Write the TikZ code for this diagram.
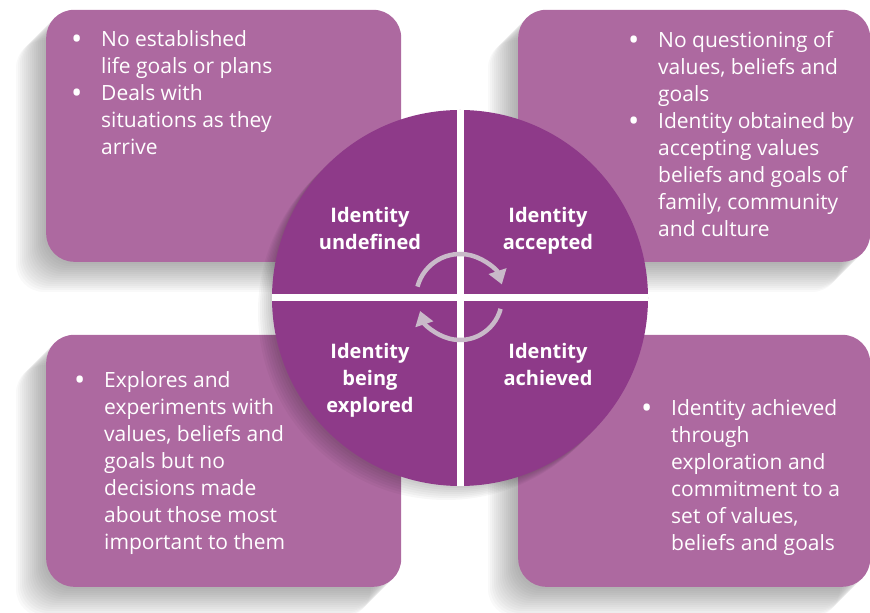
\documentclass[tikz,border=0pt]{standalone}
\usepackage{fontspec}
\setmainfont{Open Sans}
\usepackage{tikz}
\usetikzlibrary{arrows.meta}
\definecolor{boxpurple}{RGB}{173,105,160}
\definecolor{ringpurple}{RGB}{142,58,137}
\definecolor{arrowgray}{RGB}{201,186,201}
\newcommand{\dotmark}{\raisebox{-2.5pt}{\fontsize{30}{27}\selectfont\textbullet}}
\newcommand{\pointlist}[1]{{\fontsize{21}{27}\selectfont\begin{tabular}[t]{@{}p{30pt}@{}l@{}}#1\end{tabular}}}
\newcommand{\stagename}[1]{{\fontsize{20}{27}\selectfont\bfseries\begin{tabular}[t]{@{}c@{}}#1\end{tabular}}}

\begin{document}
\begin{tikzpicture}[x=1pt,y=1pt,
  panel/.style={rectangle,fill=boxpurple,rounded corners=28pt,inner sep=0pt,anchor=south west,minimum height=252pt},
  panelshade/.style={fill=black,opacity=0.025,rounded corners=28pt},
  listtext/.style={text=white,inner sep=0pt,anchor=base west},
  stagetext/.style={text=white,inner sep=0pt,anchor=base},
  roundarrow/.style={draw=arrowgray,line width=4.5pt,-{Triangle[width=18pt,length=14pt]}}]
\useasboundingbox (0,0) rectangle (870,613);
\foreach \n/\x/\y/\w in {undef/46/351/355,accept/518/351/352,explore/46/26/355,achieve/518/26/352}{
  \foreach \k in {2,4,...,30}
    \fill[panelshade] (\x-\k,\y-\k) rectangle +(\w,252);
  \node[panel,minimum width=\w pt] (\n box) at (\x,\y) {};
}
\node[listtext] (undeftext) at (71,566) {\pointlist{%
\dotmark & No established\\ & life goals or plans\\
\dotmark & Deals with\\ & situations as they\\ & arrive}};
\node[listtext] (accepttext) at (628,565) {\pointlist{%
\dotmark & No questioning of\\ & values, beliefs and\\ & goals\\
\dotmark & Identity obtained by\\ & accepting values\\ & beliefs and goals of\\ & family, community\\ & and culture}};
\node[listtext] (exploretext) at (74,225) {\pointlist{%
\dotmark & Explores and\\ & experiments with\\ & values, beliefs and\\ & goals but no\\ & decisions made\\ & about those most\\ & important to them}};
\node[listtext] (achievetext) at (641,197) {\pointlist{%
\dotmark & Identity achieved\\ & through\\ & exploration and\\ & commitment to a\\ & set of values,\\ & beliefs and goals}};

\foreach \k in {2,4,...,14}
  \fill[black,opacity=0.03] (460-\k,315-\k) circle[radius=188];
\node[circle,fill=ringpurple,minimum size=376pt,inner sep=0pt] (ring) at (460,315) {};
\draw[white,line width=7pt] (ring.north) -- (ring.south) (ring.west) -- (ring.east);

\node[stagetext] (undeflabel) at (370,390) {\stagename{Identity\\undefined}};
\node[stagetext] (acceptlabel) at (548,390) {\stagename{Identity\\accepted}};
\node[stagetext] (explorelabel) at (370,254) {\stagename{Identity\\being\\explored}};
\node[stagetext] (achievelabel) at (548,254) {\stagename{Identity\\achieved}};

\draw[roundarrow] ([shift=(165:44)]ring.center) arc[start angle=165,end angle=18,radius=44];
\draw[roundarrow] ([shift=(-15:42)]ring.center) arc[start angle=-15,end angle=-162,radius=42];
\end{tikzpicture}
\end{document}
